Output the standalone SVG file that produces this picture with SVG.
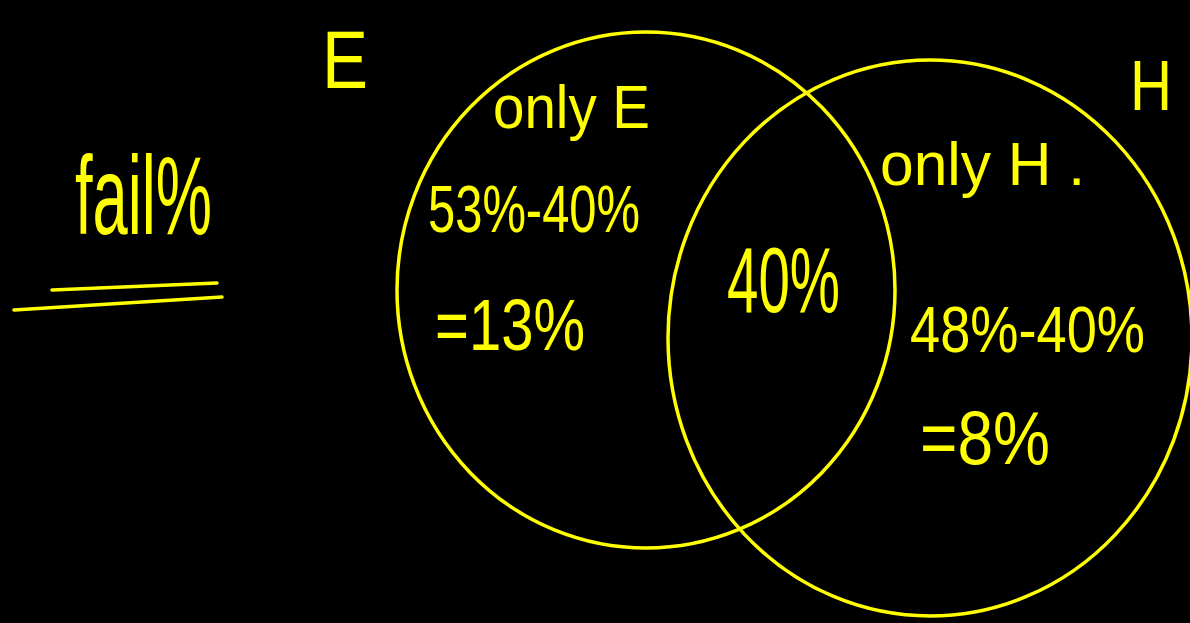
<svg xmlns="http://www.w3.org/2000/svg" width="1190" height="623" viewBox="0 0 1190 623">
<style>
.t{fill:#ffff00;font-family:"Liberation Sans",Arial,sans-serif;}
.c{fill:none;stroke:#ffff00;stroke-width:3.5;}
.l{stroke:#ffff00;stroke-width:3.5;stroke-linecap:round;fill:none;}
</style>
<rect width="1190" height="623" fill="#000"/>
<g id="circleE"><ellipse class="c" cx="646" cy="290" rx="249" ry="258"/></g>
<g id="circleH"><ellipse class="c" cx="930" cy="338" rx="262" ry="278"/></g>
<g id="labelE"><text class="t" x="322" y="88" font-size="82" textLength="46" lengthAdjust="spacingAndGlyphs">E</text></g>
<g id="labelH"><text class="t" x="1130" y="110" font-size="70" textLength="42" lengthAdjust="spacingAndGlyphs">H</text></g>
<g id="fail">
<text class="t" x="75" y="234" font-size="112" textLength="137" lengthAdjust="spacingAndGlyphs">fail%</text>
<path class="l" d="M52 290 L217 283"/>
<path class="l" d="M14 310 L222 297"/>
</g>
<g id="onlyE">
<text class="t" x="493" y="128" font-size="62" textLength="157" lengthAdjust="spacingAndGlyphs">only E</text>
<text class="t" x="428" y="232" font-size="66" textLength="212" lengthAdjust="spacingAndGlyphs">53%-40%</text>
<text class="t" x="435" y="350" font-size="72" textLength="150" lengthAdjust="spacingAndGlyphs">=13%</text>
</g>
<g id="both"><text class="t" x="727" y="312" font-size="92" textLength="113" lengthAdjust="spacingAndGlyphs">40%</text></g>
<g id="onlyH">
<text class="t" x="880" y="185" font-size="62" textLength="205" lengthAdjust="spacingAndGlyphs">only H .</text>
<text class="t" x="910" y="352" font-size="64" textLength="235" lengthAdjust="spacingAndGlyphs">48%-40%</text>
<text class="t" x="920" y="464" font-size="76" textLength="130" lengthAdjust="spacingAndGlyphs">=8%</text>
</g>
</svg>
